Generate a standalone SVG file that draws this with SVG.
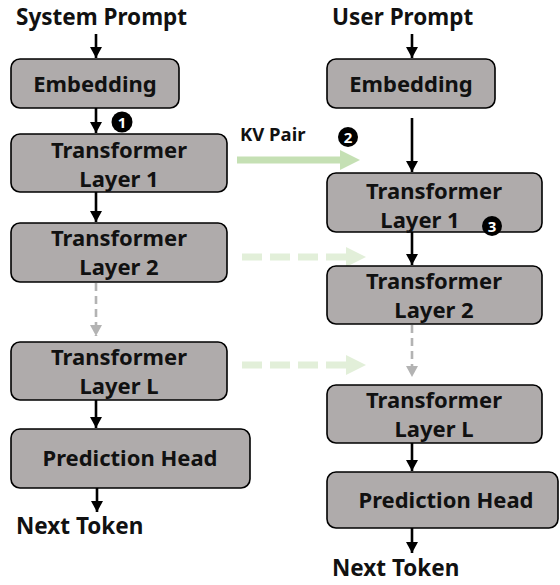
<svg xmlns="http://www.w3.org/2000/svg" width="560" height="585" viewBox="0 0 560 585">
<defs>
<marker id="ah" markerUnits="userSpaceOnUse" markerWidth="12" markerHeight="12" refX="11" refY="6" orient="auto"><path d="M0,0 L11,6 L0,12 Z" fill="#000"/></marker>
<marker id="ahg" markerUnits="userSpaceOnUse" markerWidth="12" markerHeight="12" refX="11" refY="6" orient="auto"><path d="M0,0 L11,6 L0,12 Z" fill="#b3b3b3"/></marker>
</defs>
<style>
.box{fill:#afabab;stroke:#000;stroke-width:1.6}
.t{font-family:"Noto Sans","Open Sans",sans-serif;font-weight:bold;font-size:22px;fill:#111;text-anchor:middle}
.lbl{font-family:"Noto Sans","Open Sans",sans-serif;font-weight:bold;font-size:22.5px;fill:#111}
.a{stroke:#000;stroke-width:2.6;fill:none;marker-end:url(#ah)}
.ag{stroke:#b3b3b3;stroke-width:2.6;fill:none;stroke-dasharray:8,5;marker-end:url(#ahg)}
.badge circle{fill:#000}
.badge text{font-family:"Noto Sans",sans-serif;font-weight:bold;font-size:15px;fill:#fff;text-anchor:middle}
</style>
<text class="lbl" x="16" y="25">System Prompt</text>
<text class="lbl" x="332" y="25">User Prompt</text>
<text class="lbl" x="16" y="534">Next Token</text>
<text class="lbl" x="332" y="576">Next Token</text>
<text class="lbl" x="240" y="141" style="font-size:18.5px">KV Pair</text>

<g id="connectors">
<line class="a" x1="96" y1="34" x2="96" y2="58"/>
<line class="a" x1="96" y1="108" x2="96" y2="133"/>
<line class="a" x1="96" y1="192" x2="96" y2="222"/>
<line class="ag" x1="96" y1="283" x2="96" y2="336"/>
<line class="a" x1="96" y1="400" x2="96" y2="428"/>
<line class="a" x1="97" y1="488" x2="97" y2="512"/>
<line class="a" x1="412" y1="34" x2="412" y2="58"/>
<line class="a" x1="412" y1="118" x2="412" y2="172"/>
<line class="a" x1="412" y1="232" x2="412" y2="265"/>
<line class="ag" x1="412" y1="325" x2="412" y2="377"/>
<line class="a" x1="412" y1="443" x2="412" y2="471"/>
<line class="a" x1="412" y1="528" x2="412" y2="553"/>
<g id="kv1">
<line x1="237" y1="160" x2="342" y2="160" stroke="#c5e0b4" stroke-width="7"/>
<path d="M340,150 L360,160 L340,170 Z" fill="#c5e0b4"/>
</g>
<g id="kv2">
<line x1="242" y1="257" x2="346" y2="257" stroke="#e2efd9" stroke-width="7" stroke-dasharray="20,8"/>
<path d="M346,247 L366,257 L346,267 Z" fill="#e2efd9"/>
</g>
<g id="kv3">
<line x1="242" y1="365" x2="346" y2="365" stroke="#e2efd9" stroke-width="7" stroke-dasharray="20,8"/>
<path d="M346,355 L366,365 L346,375 Z" fill="#e2efd9"/>
</g>
</g>

<g id="sys-embedding"><rect class="box" x="11" y="59" width="168" height="49" rx="9"/><text class="t" x="95" y="92">Embedding</text></g>
<g id="sys-layer1"><rect class="box" x="11" y="134" width="216" height="58" rx="9"/><text class="t" x="119" y="158">Transformer</text><text class="t" x="119" y="187">Layer 1</text></g>
<g id="sys-layer2"><rect class="box" x="11" y="223" width="216" height="59" rx="9"/><text class="t" x="119" y="246">Transformer</text><text class="t" x="119" y="275">Layer 2</text></g>
<g id="sys-layerL"><rect class="box" x="11" y="342" width="216" height="58" rx="9"/><text class="t" x="119" y="365">Transformer</text><text class="t" x="119" y="394">Layer L</text></g>
<g id="sys-head"><rect class="box" x="11" y="429" width="239" height="59" rx="9"/><text class="t" x="130" y="466">Prediction Head</text></g>

<g id="usr-embedding"><rect class="box" x="327" y="59" width="168" height="49" rx="9"/><text class="t" x="411" y="92">Embedding</text></g>
<g id="usr-layer1"><rect class="box" x="327" y="173" width="215" height="59" rx="9"/><text class="t" x="434" y="199">Transformer</text><text class="t" x="420" y="228">Layer 1</text></g>
<g id="usr-layer2"><rect class="box" x="327" y="266" width="215" height="58" rx="9"/><text class="t" x="434" y="289">Transformer</text><text class="t" x="434" y="318">Layer 2</text></g>
<g id="usr-layerL"><rect class="box" x="327" y="385" width="215" height="58" rx="9"/><text class="t" x="434" y="408">Transformer</text><text class="t" x="434" y="437">Layer L</text></g>
<g id="usr-head"><rect class="box" x="327" y="472" width="231" height="56" rx="9"/><text class="t" x="446" y="508">Prediction Head</text></g>

<g id="badge1" class="badge"><circle cx="122" cy="122" r="10.5"/><text x="122" y="127.5">1</text></g>
<g id="badge2" class="badge"><circle cx="348" cy="137" r="10"/><text x="348" y="142.5">2</text></g>
<g id="badge3" class="badge"><circle cx="492" cy="226" r="10"/><text x="492" y="231.5">3</text></g>
</svg>
